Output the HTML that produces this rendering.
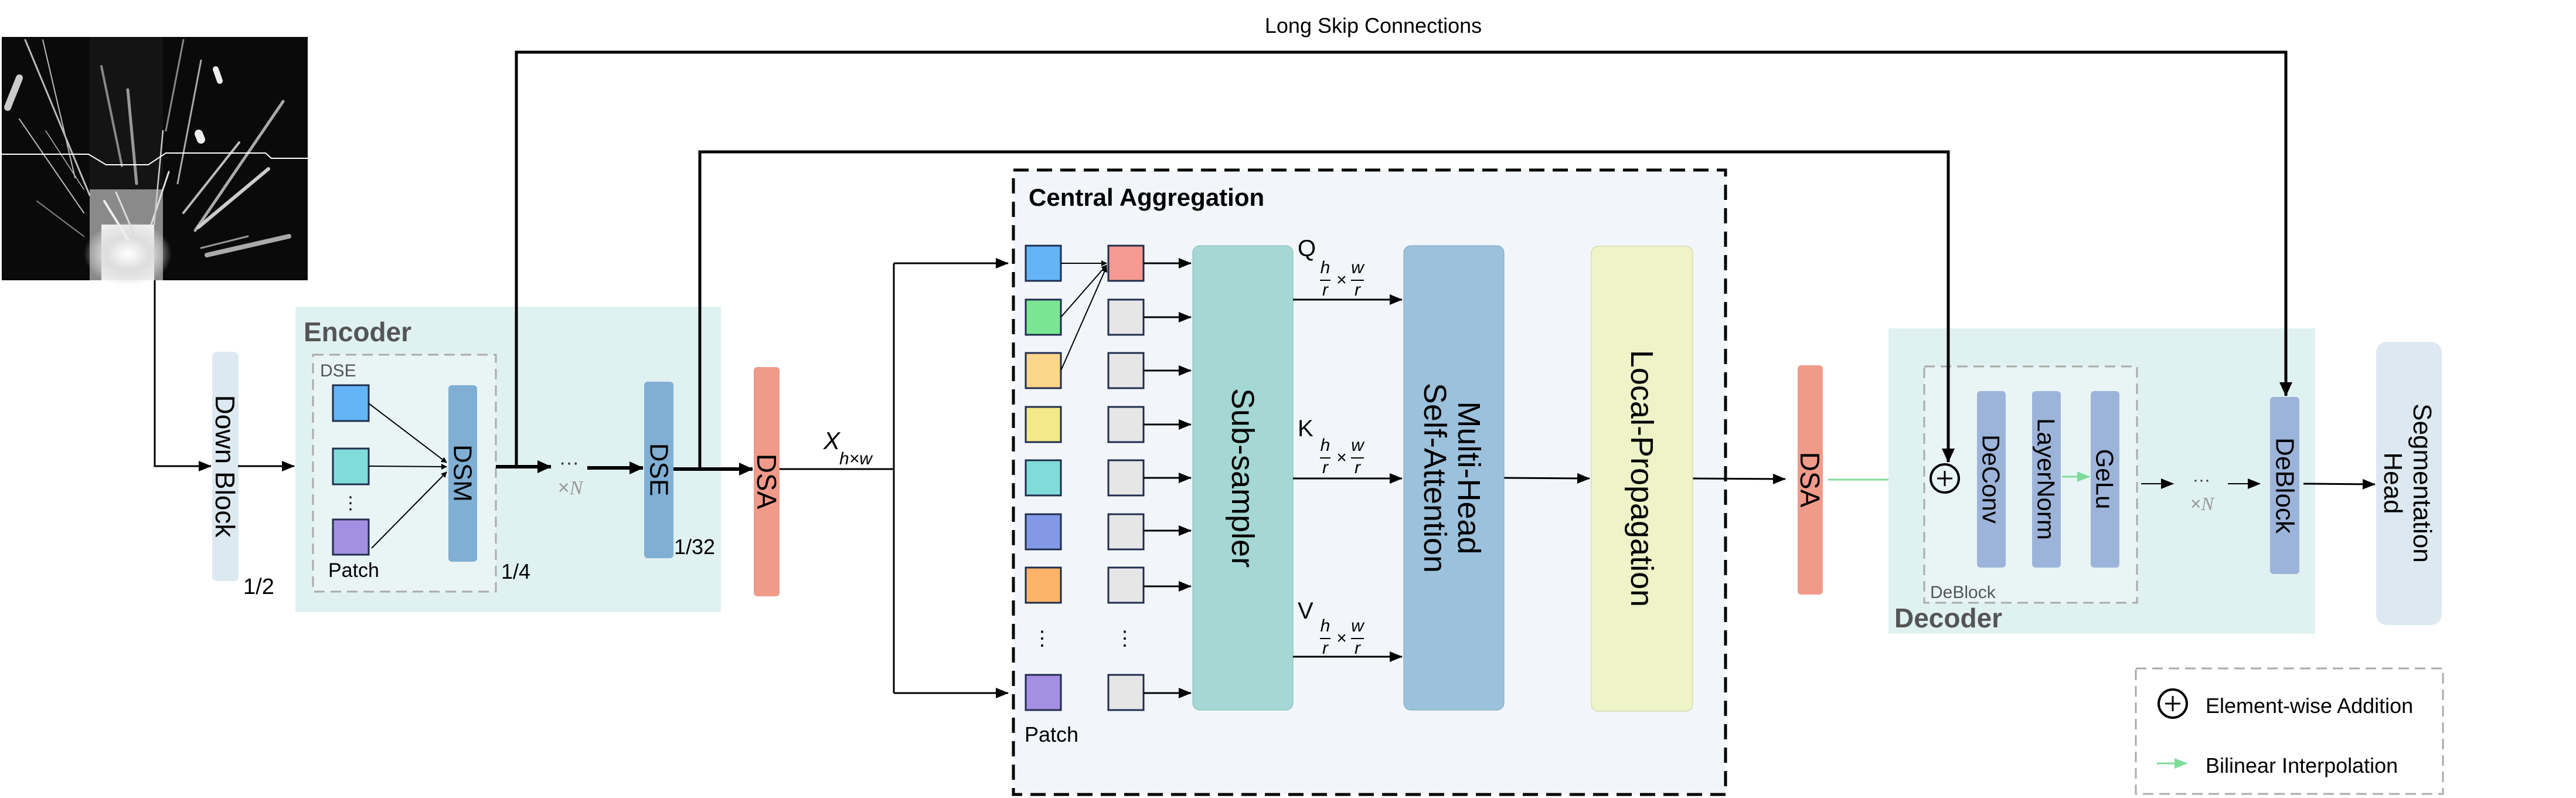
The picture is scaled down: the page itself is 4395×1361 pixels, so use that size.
<!DOCTYPE html>
<html><head><meta charset="utf-8"><style>
html,body{margin:0;padding:0;background:#fff;}
svg{display:block;}
text{font-family:"Liberation Sans",sans-serif;}
</style></head><body>
<svg width="4395" height="1361" viewBox="0 0 4395 1361" xmlns="http://www.w3.org/2000/svg">
<defs>
<marker id="ah" markerWidth="10" markerHeight="10" refX="9" refY="5" orient="auto" markerUnits="userSpaceOnUse" viewBox="0 0 10 10"><path d="M0,0 L10,5 L0,10 z" fill="#000"/></marker>
<marker id="ahb" markerWidth="24" markerHeight="22" refX="23" refY="11" orient="auto" markerUnits="userSpaceOnUse" viewBox="0 0 24 22"><path d="M0,0 L24,11 L0,22 z" fill="#000"/></marker>
<marker id="ahs" markerWidth="22" markerHeight="18" refX="21" refY="9" orient="auto" markerUnits="userSpaceOnUse" viewBox="0 0 22 18"><path d="M0,0 L22,9 L0,18 z" fill="#000"/></marker>
<marker id="ahg" markerWidth="22" markerHeight="18" refX="21" refY="9" orient="auto" markerUnits="userSpaceOnUse" viewBox="0 0 22 18"><path d="M0,0 L22,9 L0,18 z" fill="#7ddc9a"/></marker>
<radialGradient id="glow" cx="0.5" cy="0.5" r="0.5"><stop offset="0" stop-color="#fff"/><stop offset="0.5" stop-color="#ddd"/><stop offset="1" stop-color="#ddd" stop-opacity="0"/></radialGradient>
</defs>

<!-- Photo -->
<g transform="translate(3,63)">
<rect x="0" y="0" width="522" height="415" fill="#0a0a0a"/>
<rect x="150" y="0" width="125" height="415" fill="#141414"/>
<rect x="150" y="260" width="125" height="155" fill="#8a8a8a"/>
<rect x="170" y="320" width="90" height="95" fill="#eeeeee"/>
<ellipse cx="215" cy="370" rx="75" ry="55" fill="url(#glow)"/>
<g stroke="#bbb" stroke-linecap="round" fill="none">
<path d="M40 5 L150 270" stroke-width="3"/><path d="M70 5 L125 240" stroke-width="2"/>
<path d="M10 120 L30 70" stroke-width="12" stroke="#ccc"/>
<path d="M30 140 L140 300" stroke-width="2"/><path d="M75 160 L140 260" stroke-width="1.5"/>
<path d="M170 50 L205 220" stroke-width="4" stroke="#888"/>
<path d="M215 90 L230 250" stroke-width="5" stroke="#999"/>
<path d="M310 5 L280 160" stroke-width="3" stroke="#888"/>
<path d="M340 40 L300 250" stroke-width="3" stroke="#aaa"/>
<path d="M365 55 L372 75" stroke-width="10" stroke="#eee"/>
<path d="M336 165 L340 175" stroke-width="14" stroke="#eee"/>
<path d="M480 110 L330 330" stroke-width="5" stroke="#aaa"/>
<path d="M405 180 L310 300" stroke-width="4" stroke="#bbb"/>
<path d="M455 225 L335 325" stroke-width="6" stroke="#ccc"/>
<path d="M490 340 L350 372" stroke-width="8" stroke="#aaa"/>
<path d="M420 340 L340 360" stroke-width="3" stroke="#999"/>
<path d="M175 280 L215 345" stroke-width="4" stroke="#eee"/>
<path d="M195 265 L225 335" stroke-width="3" stroke="#ddd"/>
<path d="M285 230 L255 320" stroke-width="3" stroke="#ddd"/>
<path d="M275 160 L260 320" stroke-width="2.5" stroke="#ccc"/>
<path d="M60 280 L140 340" stroke-width="2" stroke="#888"/>
</g>
<path d="M0 200 L148 200 L178 218 L250 218 L280 198 L450 198 L460 207 L522 207" stroke="#fff" stroke-width="2" fill="none"/>
</g>

<!-- photo to down block -->
<path d="M264 478 L264 795 L360 795" stroke="#000" stroke-width="3" fill="none" marker-end="url(#ahs)"/>

<text x="2343" y="56" font-size="36" text-anchor="middle" fill="#000">Long Skip Connections</text>

<!-- Down block -->
<rect x="362" y="600" width="45" height="391" rx="8" fill="#dde9f0"/>
<text transform="translate(384,795) rotate(90)" font-size="46" text-anchor="middle" dominant-baseline="central">Down Block</text>
<text x="415" y="1013" font-size="38">1/2</text>
<path d="M406 795 L502 795" stroke="#000" stroke-width="3" marker-end="url(#ahs)"/>

<!-- Encoder -->
<rect x="504" y="523" width="726" height="521" fill="#e0f1f1"/>
<text x="518" y="582" font-size="46" font-weight="bold" fill="#555">Encoder</text>
<rect x="534" y="605" width="312" height="404" fill="#e9f5f5" stroke="#aaa" stroke-width="3" stroke-dasharray="18,10"/>
<text x="546" y="642" font-size="30" fill="#555">DSE</text>
<rect x="568" y="657" width="61" height="61" fill="#64b5f6" stroke="#1f2d4e" stroke-width="3"/>
<rect x="568" y="765" width="61" height="61" fill="#80dcd8" stroke="#1f2d4e" stroke-width="3"/>
<rect x="568" y="886" width="61" height="60" fill="#a58fe2" stroke="#1f2d4e" stroke-width="3"/>
<text x="598" y="868" font-size="30" text-anchor="middle">⋮</text>
<text x="560" y="984" font-size="34">Patch</text>
<path d="M629 688 L762 789" stroke="#000" stroke-width="2" marker-end="url(#ah)"/>
<path d="M629 795 L762 796" stroke="#000" stroke-width="2" marker-end="url(#ah)"/>
<path d="M634 935 L762 805" stroke="#000" stroke-width="2" marker-end="url(#ah)"/>
<rect x="765" y="657" width="49" height="301" rx="6" fill="#80afd3"/>
<text transform="translate(789,807) rotate(90)" font-size="44" text-anchor="middle" dominant-baseline="central">DSM</text>
<text x="855" y="987" font-size="36">1/4</text>
<path d="M846 796 L940 796" stroke="#000" stroke-width="6" marker-end="url(#ahb)"/>
<text x="971" y="800" font-size="34" text-anchor="middle" fill="#333">···</text>
<text x="973" y="843" font-size="34" text-anchor="middle" fill="#999"><tspan>×</tspan><tspan font-family="Liberation Serif" font-style="italic">N</tspan></text>
<path d="M1002 798 L1097 798" stroke="#000" stroke-width="6" marker-end="url(#ahb)"/>
<rect x="1099" y="651" width="50" height="301" rx="6" fill="#80afd3"/>
<text transform="translate(1124,801) rotate(90)" font-size="44" text-anchor="middle" dominant-baseline="central">DSE</text>
<text x="1150" y="945" font-size="36">1/32</text>
<path d="M1149 800 L1284 800" stroke="#000" stroke-width="6" marker-end="url(#ahb)"/>

<!-- DSA 1 -->
<rect x="1286" y="626" width="44" height="391" rx="6" fill="#f09a8a"/>
<text transform="translate(1308,821) rotate(90)" font-size="46" text-anchor="middle" dominant-baseline="central">DSA</text>
<path d="M1330 800 L1525 800" stroke="#000" stroke-width="3" fill="none"/>
<text x="1405" y="766" font-size="42" font-family="Liberation Serif" font-style="italic">X</text>
<text x="1432" y="792" font-size="30" font-family="Liberation Serif" font-style="italic">h×w</text>
<path d="M1525 449 L1525 1182" stroke="#000" stroke-width="3" fill="none"/>
<path d="M1525 449 L1720 449" stroke="#000" stroke-width="3" marker-end="url(#ahs)"/>
<path d="M1525 1182 L1720 1182" stroke="#000" stroke-width="3" marker-end="url(#ahs)"/>

<!-- Central Aggregation -->
<rect x="1729" y="290" width="1215" height="1065" fill="#f2f6fb" stroke="#000" stroke-width="5" stroke-dasharray="26,14"/>
<text x="1755" y="351" font-size="42" font-weight="bold">Central Aggregation</text>
<g stroke="#1f2d4e" stroke-width="3">
<rect x="1750" y="419" width="60" height="60" fill="#64b5f6"/>
<rect x="1750" y="511" width="60" height="60" fill="#7ae592"/>
<rect x="1750" y="602" width="60" height="60" fill="#fbd58a"/>
<rect x="1750" y="694" width="60" height="60" fill="#f3e98a"/>
<rect x="1750" y="785" width="60" height="60" fill="#80dcd8"/>
<rect x="1750" y="877" width="60" height="60" fill="#8399e6"/>
<rect x="1750" y="968" width="60" height="60" fill="#fdb36a"/>
<rect x="1750" y="1151" width="60" height="60" fill="#a58fe2"/>
<rect x="1891" y="419" width="60" height="60" fill="#f49a90"/>
<rect x="1891" y="511" width="60" height="60" fill="#e6e6e6"/>
<rect x="1891" y="602" width="60" height="60" fill="#e6e6e6"/>
<rect x="1891" y="694" width="60" height="60" fill="#e6e6e6"/>
<rect x="1891" y="785" width="60" height="60" fill="#e6e6e6"/>
<rect x="1891" y="877" width="60" height="60" fill="#e6e6e6"/>
<rect x="1891" y="968" width="60" height="60" fill="#e6e6e6"/>
<rect x="1891" y="1151" width="60" height="60" fill="#e6e6e6"/>
</g>
<text x="1778" y="1100" font-size="34" text-anchor="middle">⋮</text>
<text x="1919" y="1100" font-size="34" text-anchor="middle">⋮</text>
<text x="1748" y="1265" font-size="36">Patch</text>
<path d="M1810 449 L1888 449" stroke="#000" stroke-width="2" marker-end="url(#ah)"/>
<path d="M1810 541 L1888 452" stroke="#000" stroke-width="2" marker-end="url(#ah)"/>
<path d="M1810 632 L1888 455" stroke="#000" stroke-width="2" marker-end="url(#ah)"/>
<g stroke="#000" stroke-width="3">
<path d="M1951 449 L2032 449" marker-end="url(#ahs)"/>
<path d="M1951 541 L2032 541" marker-end="url(#ahs)"/>
<path d="M1951 632 L2032 632" marker-end="url(#ahs)"/>
<path d="M1951 724 L2032 724" marker-end="url(#ahs)"/>
<path d="M1951 815 L2032 815" marker-end="url(#ahs)"/>
<path d="M1951 905 L2032 905" marker-end="url(#ahs)"/>
<path d="M1951 1000 L2032 1000" marker-end="url(#ahs)"/>
<path d="M1951 1182 L2032 1182" marker-end="url(#ahs)"/>
</g>
<rect x="2035" y="419" width="171" height="792" rx="12" fill="#a5d8d4" stroke="#7fb9b4" stroke-width="1"/>
<text transform="translate(2120,815) rotate(90)" font-size="54" text-anchor="middle" dominant-baseline="central">Sub-sampler</text>

<!-- Q K V -->
<g font-size="40">
<text x="2214" y="437">Q</text>
<text x="2214" y="744">K</text>
<text x="2214" y="1055">V</text>
</g>
<g font-family="Liberation Serif" font-style="italic" font-size="30" text-anchor="middle">
<g>
<text x="2261" y="466">h</text><text x="2316" y="466">w</text>
<text x="2261" y="504">r</text><text x="2316" y="504">r</text>
<text x="2289" y="487" font-style="normal" font-family="Liberation Sans">×</text>
<path d="M2252 478 L2270 478 M2305 478 L2327 478" stroke="#000" stroke-width="2"/>
</g>
<g transform="translate(0,303)">
<text x="2261" y="466">h</text><text x="2316" y="466">w</text>
<text x="2261" y="504">r</text><text x="2316" y="504">r</text>
<text x="2289" y="487" font-style="normal" font-family="Liberation Sans">×</text>
<path d="M2252 478 L2270 478 M2305 478 L2327 478" stroke="#000" stroke-width="2"/>
</g>
<g transform="translate(0,611)">
<text x="2261" y="466">h</text><text x="2316" y="466">w</text>
<text x="2261" y="504">r</text><text x="2316" y="504">r</text>
<text x="2289" y="487" font-style="normal" font-family="Liberation Sans">×</text>
<path d="M2252 478 L2270 478 M2305 478 L2327 478" stroke="#000" stroke-width="2"/>
</g>
</g>
<g stroke="#000" stroke-width="3">
<path d="M2206 511 L2392 511" marker-end="url(#ahs)"/>
<path d="M2206 816 L2392 816" marker-end="url(#ahs)"/>
<path d="M2206 1120 L2392 1120" marker-end="url(#ahs)"/>
<path d="M2566 815 L2712 816" marker-end="url(#ahs)"/>
<path d="M2888 816 L3046 817" marker-end="url(#ahs)"/>
</g>
<rect x="2395" y="419" width="171" height="792" rx="12" fill="#9cc1dc" stroke="#7aa4c2" stroke-width="1"/>
<text transform="translate(2480,815) rotate(90)" font-size="54" text-anchor="middle"><tspan x="0" y="-8">Multi-Head</tspan><tspan x="0" y="50">Self-Attention</tspan></text>
<rect x="2715" y="420" width="173" height="793" rx="12" fill="#eef3c8" stroke="#c8cf9a" stroke-width="1"/>
<text transform="translate(2801,816) rotate(90)" font-size="54" text-anchor="middle" dominant-baseline="central">Local-Propagation</text>

<!-- DSA 2 -->
<rect x="3067" y="623" width="43" height="391" rx="6" fill="#f09a8a"/>
<text transform="translate(3088,818) rotate(90)" font-size="46" text-anchor="middle" dominant-baseline="central">DSA</text>
<path d="M3119 818 L3260 818" stroke="#7ddc9a" stroke-width="3" marker-end="url(#ahg)"/>

<!-- Decoder -->
<rect x="3222" y="560" width="728" height="521" fill="#e0f1f1"/>
<rect x="3283" y="625" width="363" height="403" fill="#e9f5f5" stroke="#aaa" stroke-width="3" stroke-dasharray="18,10"/>
<text x="3293" y="1020" font-size="30" fill="#555">DeBlock</text>
<text x="3232" y="1070" font-size="46" font-weight="bold" fill="#555">Decoder</text>
<circle cx="3318" cy="816" r="24" fill="none" stroke="#000" stroke-width="4"/>
<path d="M3305 816 L3331 816 M3318 803 L3318 829" stroke="#000" stroke-width="3"/>
<rect x="3373" y="667" width="49" height="301" rx="6" fill="#9db4da"/>
<text transform="translate(3397,817) rotate(90)" font-size="42" text-anchor="middle" dominant-baseline="central">DeConv</text>
<rect x="3467" y="667" width="49" height="301" rx="6" fill="#9db4da"/>
<text transform="translate(3491,817) rotate(90)" font-size="42" text-anchor="middle" dominant-baseline="central">LayerNorm</text>
<rect x="3567" y="667" width="49" height="301" rx="6" fill="#9db4da"/>
<text transform="translate(3591,817) rotate(90)" font-size="42" text-anchor="middle" dominant-baseline="central">GeLu</text>
<path d="M3518 813 L3565 813" stroke="#7ddc9a" stroke-width="3" marker-end="url(#ahg)"/>
<path d="M3653 825 L3708 825" stroke="#000" stroke-width="2" marker-end="url(#ahs)"/>
<text x="3756" y="828" font-size="30" text-anchor="middle" fill="#333">···</text>
<text x="3757" y="870" font-size="32" text-anchor="middle" fill="#999"><tspan>×</tspan><tspan font-family="Liberation Serif" font-style="italic">N</tspan></text>
<path d="M3801 825 L3856 825" stroke="#000" stroke-width="2" marker-end="url(#ahs)"/>
<rect x="3873" y="677" width="50" height="302" rx="6" fill="#9db4da"/>
<text transform="translate(3898,828) rotate(90)" font-size="44" text-anchor="middle" dominant-baseline="central">DeBlock</text>
<path d="M3930 825 L4052 826" stroke="#000" stroke-width="3" marker-end="url(#ahs)"/>

<!-- Segmentation head -->
<rect x="4054" y="583" width="112" height="483" rx="18" fill="#dde9f0"/>
<text transform="translate(4110,824) rotate(90)" font-size="44" text-anchor="middle"><tspan x="0" y="-8">Segmentation</tspan><tspan x="0" y="42">Head</tspan></text>

<!-- Legend -->
<rect x="3644" y="1140" width="524" height="214" fill="none" stroke="#aaa" stroke-width="3" stroke-dasharray="18,10"/>
<circle cx="3707" cy="1200" r="24" fill="none" stroke="#000" stroke-width="4"/>
<path d="M3694 1200 L3720 1200 M3707 1187 L3707 1213" stroke="#000" stroke-width="3"/>
<text x="3763" y="1216" font-size="36">Element-wise Addition</text>
<path d="M3680 1302 L3731 1302" stroke="#7ddc9a" stroke-width="3" marker-end="url(#ahg)"/>
<text x="3763" y="1318" font-size="36">Bilinear Interpolation</text>

<!-- Long skip connections (on top) -->
<path d="M881 798 L881 89 L3900 89 L3900 675" stroke="#000" stroke-width="5" fill="none" marker-end="url(#ahb)"/>
<path d="M1194 800 L1194 259 L3324 259 L3324 788" stroke="#000" stroke-width="5" fill="none" marker-end="url(#ahb)"/>
</svg>
</body></html>
